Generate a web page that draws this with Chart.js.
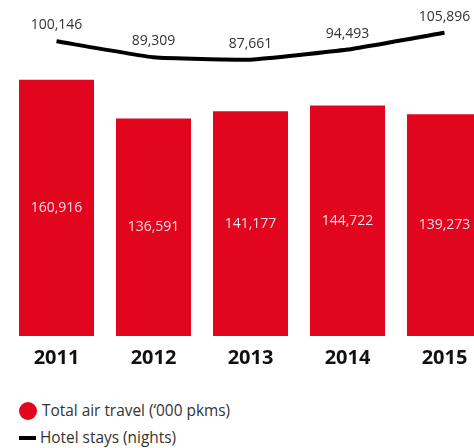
<!DOCTYPE html>
<html>
<head>
<meta charset="utf-8">
<script src="https://cdn.jsdelivr.net/npm/chart.js@4.4.1/dist/chart.umd.min.js"></script>
<style>
  html, body { margin: 0; padding: 0; background: #fff; width: 474px; height: 448px; overflow: hidden; }
  #wrap { position: absolute; left: 0; top: 0; width: 493px; height: 370px; }
  .legend { position: absolute; left: 0; height: 22px; font-family: "Open Sans", sans-serif; font-size: 15.4px; color: #333; line-height: 22px; white-space: nowrap; }
  .legend .dot { position: absolute; left: 19px; top: 2px; width: 18px; height: 18px; border-radius: 50%; background: #e2051e; }
  .legend .dash { position: absolute; left: 19px; top: 9px; width: 17px; height: 4px; background: #000; }
  .legend span.txt { position: absolute; top: 0; }
</style>
</head>
<body>
<div id="wrap"><canvas id="chart" width="493" height="370"></canvas></div>
<div class="legend" style="top:400px;"><div class="dot"></div><span class="txt" style="left:42px;">Total air travel (‘000 pkms)</span></div>
<div class="legend" style="top:427px;"><div class="dash"></div><span class="txt" style="left:40px;">Hotel stays (nights)</span></div>
<script>
const years = ['2011', '2012', '2013', '2014', '2015'];
const airTravel = [160916, 136591, 141177, 144722, 139273];   // '000 pkms
const hotelStays = [100146, 89309, 87661, 94493, 105896];     // nights

const RED = '#e2051e';
const fmt = v => v.toLocaleString('en-US');

// Writes each value inside its bar and above each line point
const valueLabels = {
  id: 'valueLabels',
  afterDatasetsDraw(chart) {
    const ctx = chart.ctx;
    ctx.save();
    ctx.font = '14px "Open Sans", sans-serif';
    ctx.textAlign = 'center';
    ctx.textBaseline = 'middle';
    chart.data.datasets.forEach((ds, di) => {
      const meta = chart.getDatasetMeta(di);
      meta.data.forEach((el, i) => {
        const txt = fmt(ds.data[i]);
        if (ds.type === 'bar') {
          ctx.fillStyle = 'rgba(255,232,236,0.95)';
          ctx.fillText(txt, el.x, (el.y + el.base) / 2);
        } else {
          ctx.fillStyle = '#333';
          ctx.fillText(txt, el.x, el.y - 16);
        }
      });
    });
    ctx.restore();
  }
};

new Chart(document.getElementById('chart'), {
  data: {
    labels: years,
    datasets: [
      {
        type: 'line',
        label: 'Hotel stays (nights)',
        data: hotelStays,
        yAxisID: 'y1',
        borderColor: '#000',
        borderWidth: 4,
        pointRadius: 0,
        tension: 0.12,
        order: 0
      },
      {
        type: 'bar',
        label: 'Total air travel (‘000 pkms)',
        data: airTravel,
        yAxisID: 'y',
        backgroundColor: RED,
        categoryPercentage: 1,
        barPercentage: 0.773,
        order: 1
      }
    ]
  },
  options: {
    responsive: false,
    devicePixelRatio: 1,
    animation: false,
    layout: { padding: { left: 8, right: 0, top: 0, bottom: 0 } },
    plugins: { legend: { display: false }, tooltip: { enabled: false } },
    scales: {
      x: {
        grid: { display: false, drawTicks: false },
        border: { display: false },
        ticks: { color: '#111', font: { family: '"Open Sans", sans-serif', size: 20, weight: 'bold' }, padding: 10 },
        afterFit(scale) { scale.height = 34; }
      },
      y: { display: false, min: 0, max: 211000 },
      y1: { display: false, min: -99000, max: 128000 }
    }
  },
  plugins: [valueLabels]
});
</script>
</body>
</html>
